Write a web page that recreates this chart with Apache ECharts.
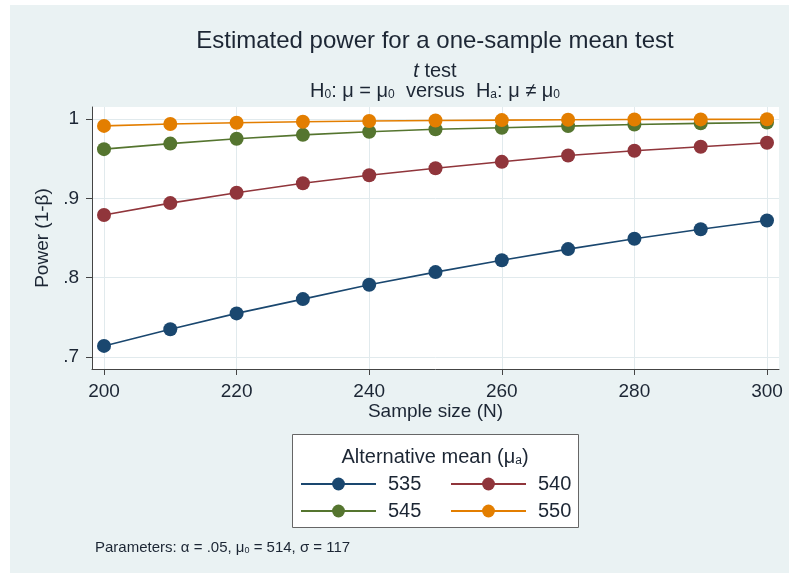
<!DOCTYPE html>
<html><head><meta charset="utf-8">
<script src="https://cdn.jsdelivr.net/npm/echarts@6/dist/echarts.min.js"></script>
<style>
html,body{margin:0;padding:0;background:#fff;}
#chart{width:789px;height:573px;background:linear-gradient(#eaf2f3,#eaf2f3) no-repeat 10px 5px / 779px 568px, #fff;}
</style></head>
<body><div id="chart"></div>
<script>
const sampleSizes = [200,210,220,230,240,250,260,270,280,290,300];
const seriesNames = ['535','540','545','550'];
const power535 = [0.714,0.735,0.755,0.773,0.791,0.807,0.822,0.836,0.849,0.861,0.872];
const power540 = [0.879,0.894,0.907,0.919,0.929,0.938,0.946,0.954,0.960,0.965,0.970];
const power545 = [0.962,0.969,0.975,0.980,0.984,0.987,0.989,0.991,0.993,0.9945,0.9956];
const power550 = [0.9913,0.9936,0.9952,0.9965,0.9974,0.9981,0.9986,0.9990,0.9993,0.9995,0.9996];
const xTicks = [200,220,240,260,280,300];
const yTicks = [0.7,0.8,0.9,1];
const colors = ['#1a476f','#90353b','#55752f','#e37e00'];
const allPower = [power535, power540, power545, power550];

const FONT = 'Liberation Sans, Arial, sans-serif';
const TXT = '#1c2634';
const chart = echarts.init(document.getElementById('chart'), null, {renderer:'canvas'});

const series = seriesNames.map((n,i)=>({
  name:n, type:'line',
  data: sampleSizes.map((x,j)=>[x, allPower[i][j]]),
  symbol:'circle', symbolSize:14,
  lineStyle:{width:1.6, color:colors[i]},
  itemStyle:{color:colors[i]},
  emphasis:{disabled:true},
  animation:false,
  z: 2 + i
}));

const legendPos = [[300,474],[450,474],[300,501],[450,501]];
const legends = seriesNames.map((n,i)=>({
  data:[n], left:legendPos[i][0], top:legendPos[i][1],
  itemWidth:75, itemHeight:16, itemGap:0, padding:0,
  textStyle:{fontSize:20, fontFamily:FONT, color:TXT, padding:[0,0,0,7]},
  selectedMode:false
}));

chart.setOption({
  backgroundColor:'transparent',
  animation:false,
  textStyle:{fontFamily:FONT},
  grid:{left:92, top:107, width:687, height:262, show:true, backgroundColor:'#ffffff', borderWidth:0, containLabel:false},
  xAxis:{
    type:'value', min:198.19, max:301.81,
    name:'Sample size (N)', nameLocation:'middle', nameGap:31,
    nameTextStyle:{fontSize:19, color:TXT, fontFamily:FONT},
    axisLine:{show:true, lineStyle:{color:'#444', width:1}},
    axisTick:{show:true, length:6, customValues:xTicks, lineStyle:{color:'#444'}},
    axisLabel:{customValues:xTicks, fontSize:19, color:TXT, margin:13, fontFamily:FONT},
    splitLine:{show:true, lineStyle:{color:'#e1eaed', width:1}}
  },
  yAxis:{
    type:'value', min:0.6849, max:1.0151,
    name:'Power (1-β)', nameLocation:'middle', nameGap:36, nameRotate:90,
    nameTextStyle:{fontSize:19, color:TXT, fontFamily:FONT},
    axisLine:{show:true, lineStyle:{color:'#444', width:1}},
    axisTick:{show:true, length:6, customValues:yTicks, lineStyle:{color:'#444'}},
    axisLabel:{customValues:yTicks, fontSize:19, color:TXT, margin:13, fontFamily:FONT,
      formatter:v=>{ const s = (Math.round(v*10)/10).toString(); return s.startsWith('0')? s.slice(1): s; }},
    splitLine:{show:true, lineStyle:{color:'#e1eaed', width:1}}
  },
  legend: legends,
  graphic:[
    {type:'text', x:435, y:41, style:{text:'Estimated power for a one-sample mean test', textAlign:'center', textVerticalAlign:'middle', fill:TXT, font:'24px '+FONT}},
    {type:'text', x:435, y:71, style:{
      text:'{i|t} test', textAlign:'center', textVerticalAlign:'middle', fill:TXT, font:'20px '+FONT,
      rich:{i:{fontStyle:'italic', fontSize:20, fontFamily:FONT, fill:TXT}}}},
    {type:'text', x:435, y:91, style:{
      text:'H{s|0}: μ = μ{s|0}  versus  H{s|a}: μ ≠ μ{s|0}', textAlign:'center', textVerticalAlign:'middle', fill:TXT, font:'20px '+FONT,
      rich:{s:{fontSize:12, fontFamily:FONT, fill:TXT, padding:[7,0,0,0]}}}},
    {type:'rect', shape:{x:292.5, y:434.5, width:286, height:93}, style:{fill:'#ffffff', stroke:'#666', lineWidth:1}, z:-1},
    {type:'text', x:435, y:457, style:{
      text:'Alternative mean (μ{s|a})', textAlign:'center', textVerticalAlign:'middle', fill:TXT, font:'20px '+FONT,
      rich:{s:{fontSize:12, fontFamily:FONT, fill:TXT, padding:[7,0,0,0]}}}},
    {type:'text', x:95, y:548, style:{
      text:'Parameters: α = .05, μ{s|0} = 514, σ = 117', textVerticalAlign:'middle', fill:TXT, font:'15px '+FONT,
      rich:{s:{fontSize:9, fontFamily:FONT, fill:TXT, padding:[5,0,0,0]}}}}
  ],
  series: series
});
</script></body></html>
